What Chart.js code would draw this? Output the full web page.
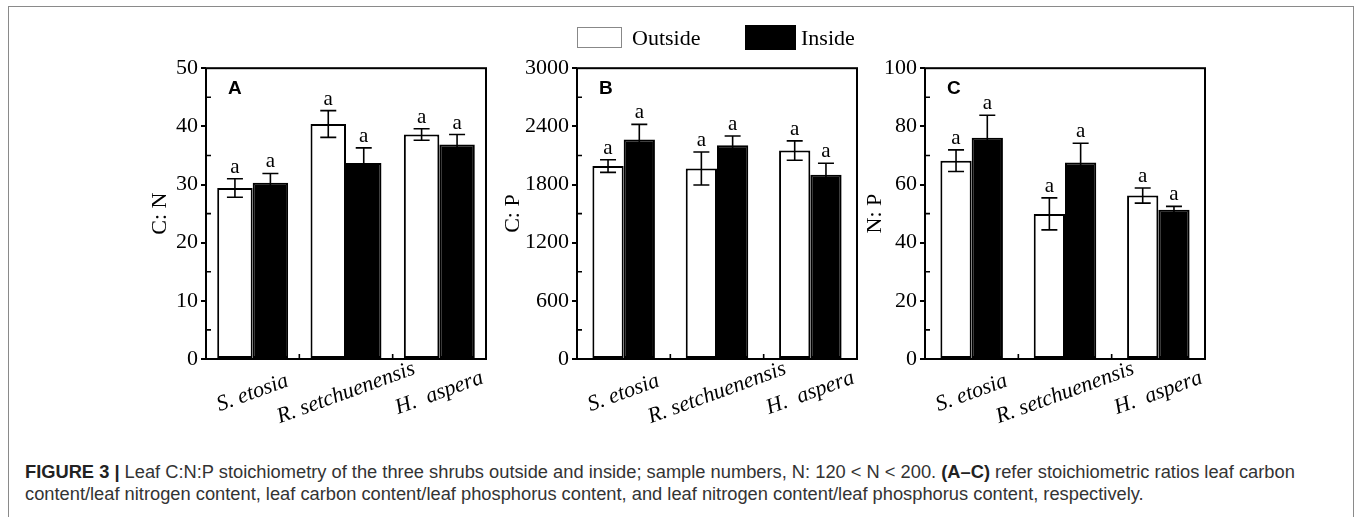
<!DOCTYPE html>
<html>
<head>
<meta charset="utf-8">
<script src="https://cdn.jsdelivr.net/npm/chart.js@4.4.1/dist/chart.umd.min.js"></script>
<style>
  body { margin: 0; width: 1360px; height: 517px; background: #fff; position: relative; overflow: hidden; }
  .frame { position: absolute; left: 8px; top: 6px; width: 1344px; height: 530px; border: 1px solid #8a8a8a; }
  .panel { position: absolute; top: 52px; }
  .legend-box { position: absolute; box-sizing: border-box; }
  .legend-text { position: absolute; font: 22px "Liberation Serif", serif; color: #000; line-height: 22px; }
  .caption { position: absolute; left: 25px; top: 461px; font: 18.3px "Liberation Sans", Arial, sans-serif; color: #333; line-height: 22px; white-space: nowrap; }
  .caption b { color: #222; }
</style>
</head>
<body>
<div class="frame"></div>

<canvas id="panelA" class="panel" width="410" height="405" style="left:96px"></canvas>
<canvas id="panelB" class="panel" width="410" height="405" style="left:467px"></canvas>
<canvas id="panelC" class="panel" width="410" height="405" style="left:815px"></canvas>

<div class="legend-box" style="left:577px; top:27px; width:45px; height:21px; border:1px solid #888; background:#fff;"></div>
<div class="legend-text" style="left:632px; top:27px;">Outside</div>
<div class="legend-box" style="left:745px; top:25px; width:51px; height:25px; background:#000;"></div>
<div class="legend-text" style="left:801px; top:27px;">Inside</div>

<div class="caption"><b>FIGURE 3 |</b> Leaf C:N:P stoichiometry of the three shrubs outside and inside; sample numbers, N: 120 &lt; N &lt; 200. <b>(A–C)</b> refer stoichiometric ratios leaf carbon<br>content/leaf nitrogen content, leaf carbon content/leaf phosphorus content, and leaf nitrogen content/leaf phosphorus content, respectively.</div>

<script>
// shrub species on the x axis
const categories = ['S. etosia', 'R. setchuenensis', 'H.  aspera'];
const seriesNames = ['Outside', 'Inside'];
const significance = ['a', 'a', 'a'];

// A: C:N
const cnOutside = [29.4, 40.4, 38.6];
const cnOutsideErr = [1.6, 2.3, 1.0];
const cnInside = [30.3, 33.7, 36.9];
const cnInsideErr = [1.6, 2.6, 1.7];

// B: C:P
const cpOutside = [1990, 1965, 2150];
const cpOutsideErr = [65, 170, 100];
const cpInside = [2265, 2205, 1900];
const cpInsideErr = [155, 95, 120];

// C: N:P
const npOutside = [68.2, 49.9, 56.2];
const npOutsideErr = [3.7, 5.5, 2.6];
const npInside = [76.1, 67.6, 51.3];
const npInsideErr = [7.7, 6.6, 1.2];

// y axis ticks per panel
const cnTicks = [0, 10, 20, 30, 40, 50];
const cpTicks = [0, 600, 1200, 1800, 2400, 3000];
const npTicks = [0, 20, 40, 60, 80, 100];

const serif = '"Liberation Serif", "Times New Roman", serif';

// error bars, "a" marks, frame, minor ticks, panel letter and x labels
const panelDecor = {
    id: 'panelDecor',
    afterDatasetsDraw(chart, args, opts) {
        const { ctx, chartArea: a, scales: { x, y } } = chart;
        ctx.save();

        // error bars + significance letters
        chart.data.datasets.forEach((ds, di) => {
            const meta = chart.getDatasetMeta(di);
            meta.data.forEach((bar, i) => {
                const v = ds.data[i];
                const e = ds.errors[i];
                const yt = y.getPixelForValue(v + e);
                const yb = y.getPixelForValue(v - e);
                ctx.strokeStyle = '#000';
                ctx.lineWidth = 1.6;
                ctx.beginPath();
                ctx.moveTo(bar.x, yt);
                ctx.lineTo(bar.x, yb);
                ctx.moveTo(bar.x - 8, yt);
                ctx.lineTo(bar.x + 8, yt);
                ctx.moveTo(bar.x - 8, yb);
                ctx.lineTo(bar.x + 8, yb);
                ctx.stroke();

                ctx.fillStyle = '#000';
                ctx.font = '21px ' + serif;
                ctx.textAlign = 'center';
                ctx.textBaseline = 'bottom';
                ctx.fillText(significance[i], bar.x, yt - 1);
            });
        });

        // frame of the plot area
        ctx.strokeStyle = '#000';
        ctx.lineWidth = 2;
        ctx.strokeRect(a.left, a.top, a.width, a.height);

        // minor y ticks (inward)
        const ticks = y.ticks;
        ctx.lineWidth = 1.6;
        ctx.beginPath();
        for (let k = 0; k < ticks.length - 1; k++) {
            const mid = (ticks[k].value + ticks[k + 1].value) / 2;
            const py = y.getPixelForValue(mid);
            ctx.moveTo(a.left, py);
            ctx.lineTo(a.left + 5, py);
        }
        // x ticks between the groups (inward)
        for (let k = 0; k < categories.length - 1; k++) {
            const px = (x.getPixelForValue(k) + x.getPixelForValue(k + 1)) / 2;
            ctx.moveTo(px, a.bottom);
            ctx.lineTo(px, a.bottom - 5);
        }
        ctx.stroke();

        // panel letter
        ctx.fillStyle = '#000';
        ctx.font = 'bold 19px "Liberation Sans", Arial, sans-serif';
        ctx.textAlign = 'left';
        ctx.textBaseline = 'middle';
        ctx.fillText(opts.letter, a.left + 22, a.top + 21);

        // rotated category labels
        ctx.font = 'italic 22px ' + serif;
        ctx.textAlign = 'center';
        ctx.textBaseline = 'middle';
        categories.forEach((c, i) => {
            ctx.save();
            ctx.translate(x.getPixelForValue(i), a.bottom + 34);
            ctx.rotate(-20 * Math.PI / 180);
            ctx.fillText(c, 0, 0);
            ctx.restore();
        });

        ctx.restore();
    }
};

function makePanel(id, letter, title, titlePad, barShare, outside, outsideErr, inside, insideErr, tickValues) {
    const ctx = document.getElementById(id).getContext('2d');
    return new Chart(ctx, {
        type: 'bar',
        data: {
            labels: categories,
            datasets: [
                {
                    label: seriesNames[0],
                    data: outside,
                    errors: outsideErr,
                    backgroundColor: '#fff',
                    borderColor: '#000',
                    borderWidth: 2,
                    borderSkipped: false,
                },
                {
                    label: seriesNames[1],
                    data: inside,
                    errors: insideErr,
                    backgroundColor: '#000',
                    borderColor: '#000',
                    borderWidth: 2,
                    borderSkipped: false,
                },
            ],
        },
        options: {
            responsive: false,
            animation: false,
            devicePixelRatio: 1,
            categoryPercentage: barShare,
            barPercentage: 1.0,
            layout: { padding: { left: 0, top: 15, right: 20, bottom: 0 } },
            plugins: {
                legend: { display: false },
                tooltip: { enabled: false },
                panelDecor: { letter: letter },
            },
            scales: {
                x: {
                    type: 'category',
                    ticks: { display: false },
                    grid: { display: false },
                    border: { display: false },
                    afterFit: (scale) => { scale.height = 98; },
                },
                y: {
                    min: tickValues[0],
                    max: tickValues[tickValues.length - 1],
                    ticks: {
                        stepSize: tickValues[1] - tickValues[0],
                        color: '#000',
                        padding: 3,
                        font: { family: serif, size: 22 },
                        callback: (value) => String(value),
                    },
                    grid: {
                        drawOnChartArea: false,
                        drawTicks: true,
                        tickLength: 5,
                        color: '#000',
                        lineWidth: 2,
                    },
                    border: { display: false },
                    title: {
                        display: true,
                        text: title,
                        color: '#000',
                        font: { family: serif, size: 22 },
                        padding: { top: titlePad, bottom: 0 },
                    },
                    afterFit: (scale) => { scale.width = 110; },
                },
            },
        },
        plugins: [panelDecor],
    });
}

makePanel('panelA', 'A', 'C: N', 51, 0.76, cnOutside, cnOutsideErr, cnInside, cnInsideErr, cnTicks);
makePanel('panelB', 'B', 'C: P', 33, 0.67, cpOutside, cpOutsideErr, cpInside, cpInsideErr, cpTicks);
makePanel('panelC', 'C', 'N: P', 47, 0.67, npOutside, npOutsideErr, npInside, npInsideErr, npTicks);
</script>
</body>
</html>
